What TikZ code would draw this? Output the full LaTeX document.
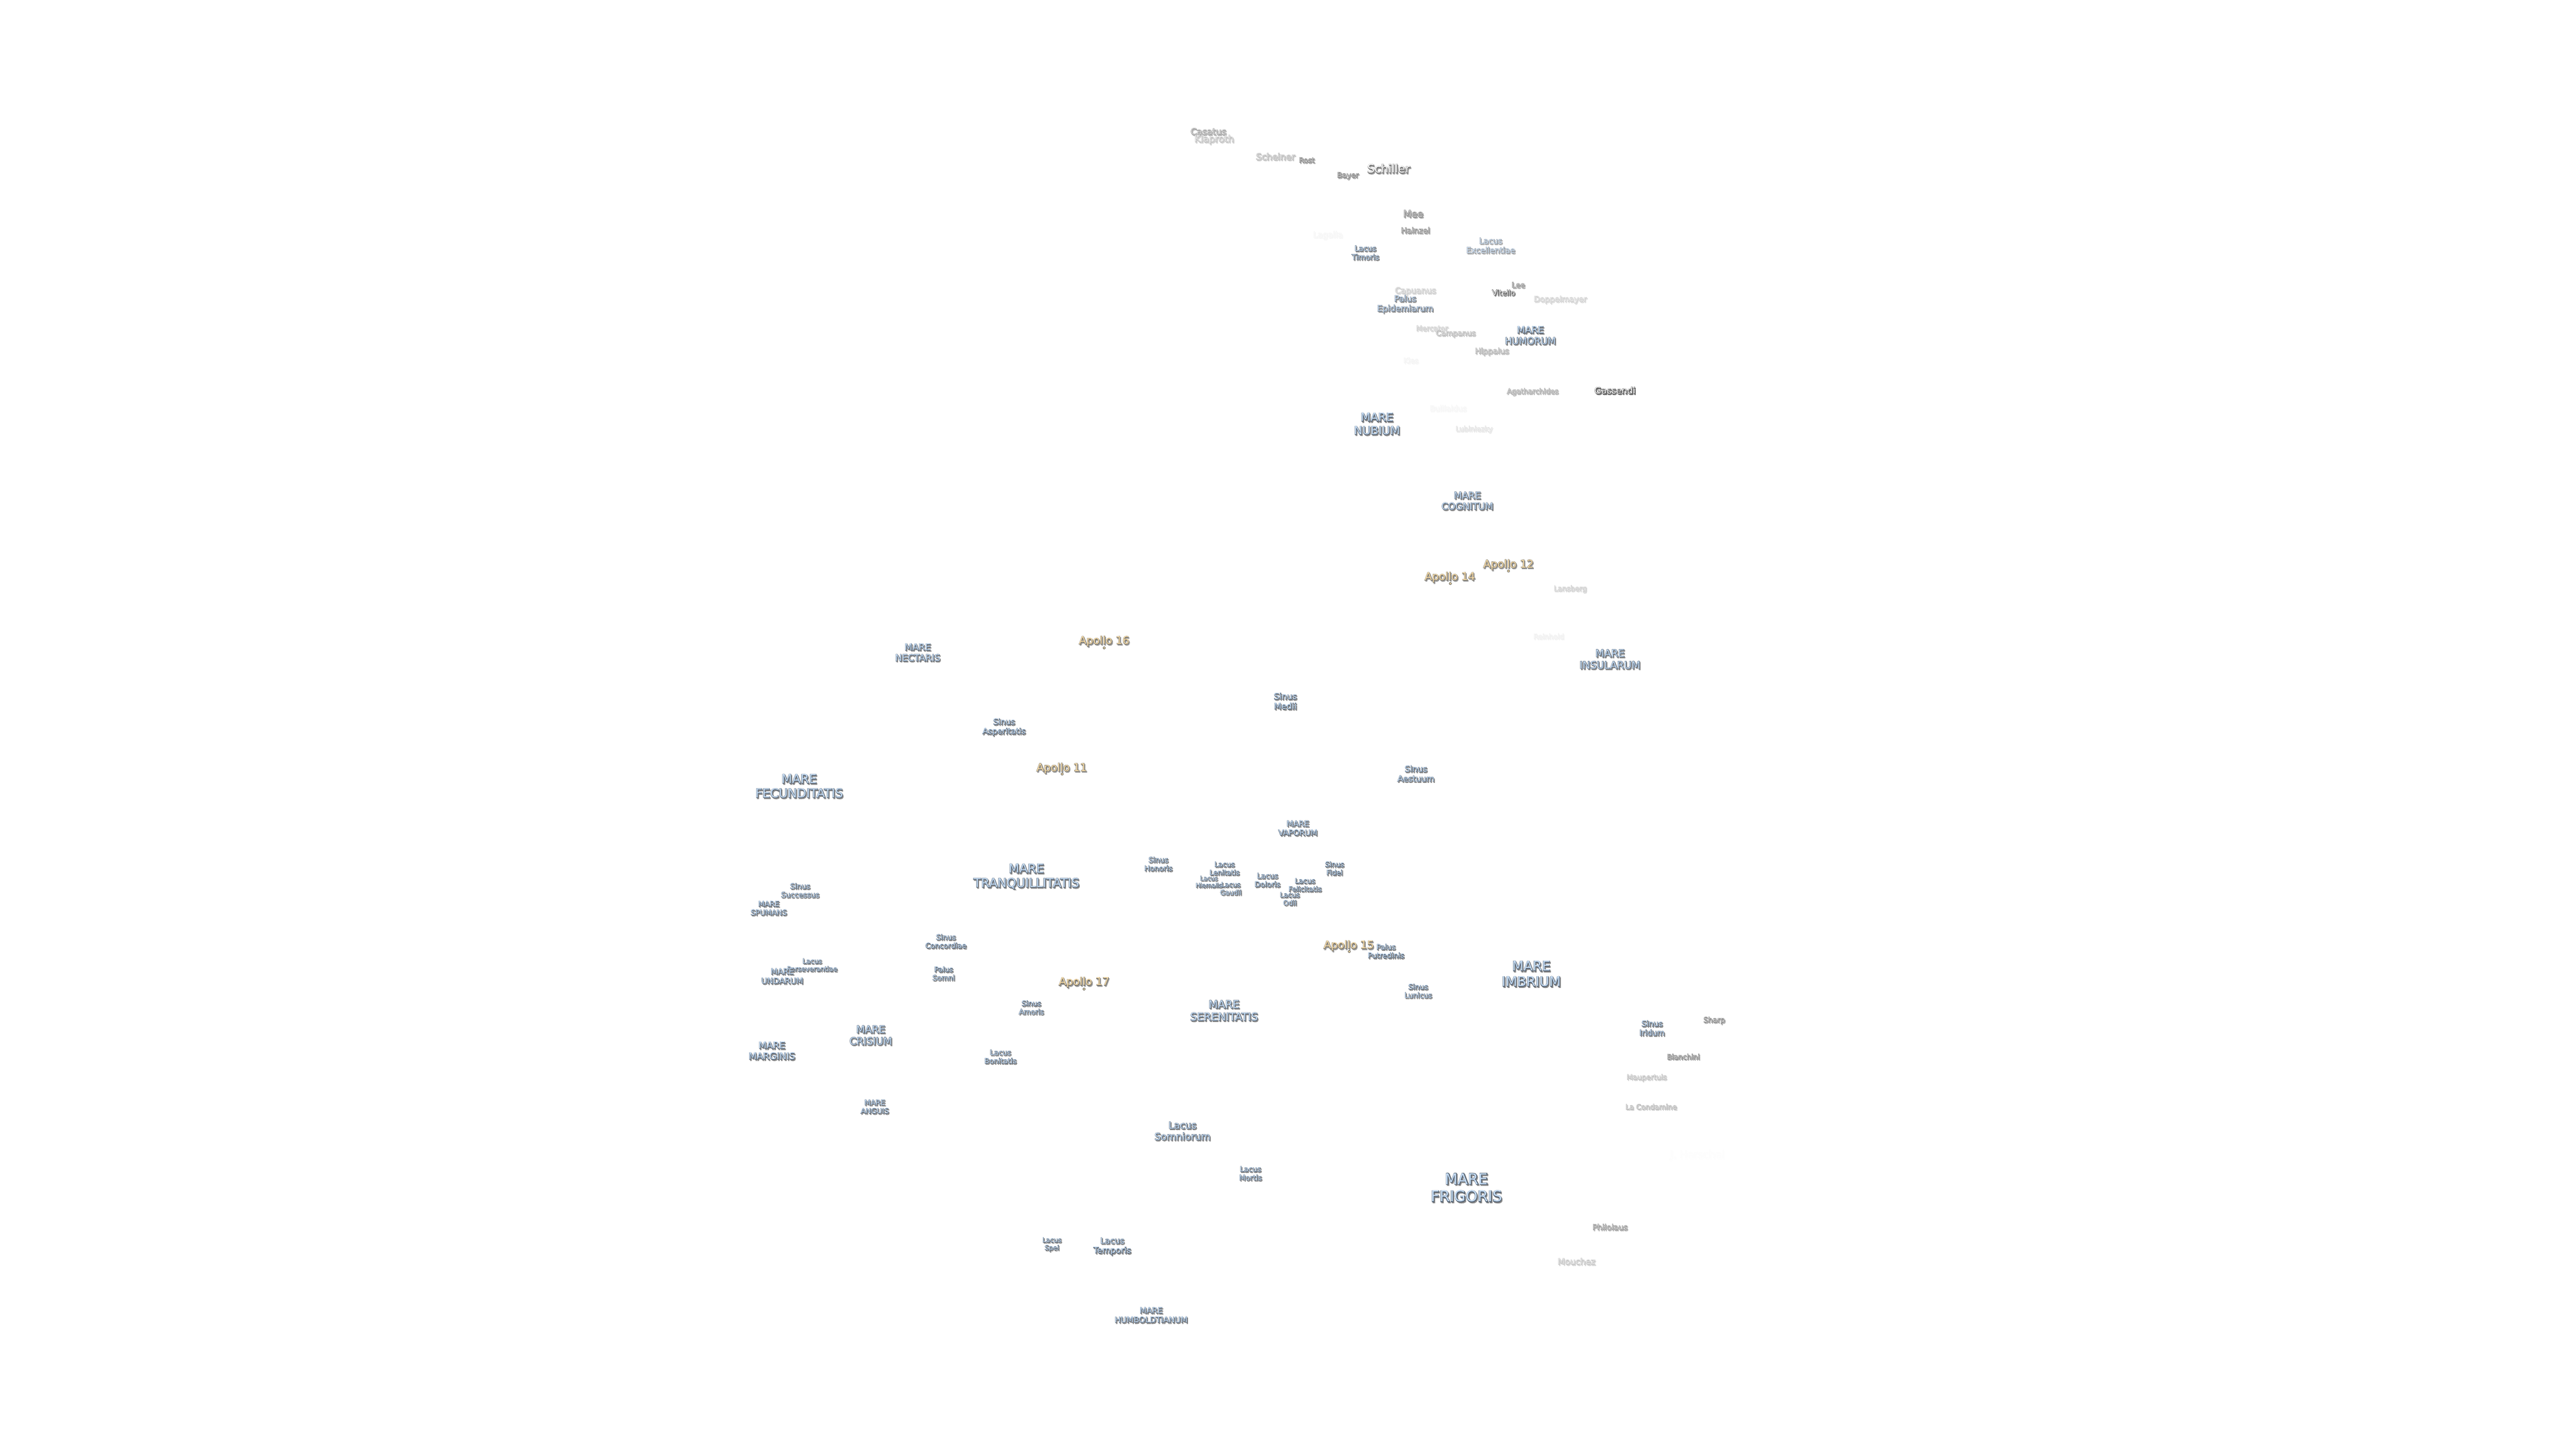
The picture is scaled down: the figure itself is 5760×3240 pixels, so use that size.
\documentclass[tikz,border=0pt]{standalone}
\usepackage{fontspec}
\setmainfont{DejaVu Sans}
\newfontfamily\halofont{DejaVu Sans}[FakeBold=6]
\definecolor{marefill}{HTML}{C6DDF5}
\definecolor{marehalo}{HTML}{4F5D6E}
\definecolor{mareshadow}{HTML}{8A8A8A}
\definecolor{apfill}{HTML}{F8DDAA}
\definecolor{aphalo}{HTML}{6E6A60}
\definecolor{apshadow}{HTML}{9A9A9A}
\definecolor{crfill}{HTML}{FFFFFF}
\definecolor{crhalo}{HTML}{303030}
\definecolor{crshadow}{HTML}{7A7A7A}
\definecolor{grfill}{HTML}{AAAAAA}
\definecolor{grhalo}{HTML}{303030}
\definecolor{grshadow}{HTML}{7A7A7A}
\tikzset{
  lab/.style={inner sep=0pt,align=center},
  apdot/.style={circle,inner sep=0pt,minimum size=5pt,fill=apfill,draw=aphalo,line width=1.2pt}
}
% name, x, y, size, kind (mare/ap/cr/gr), opacity percent, text
\newcommand\lab[7]{%
  \pgfmathsetlengthmacro\labskip{#4*1.164}%
  \node[lab,text=#5shadow!#6!white,font=\halofont\fontsize{#4}{\labskip}\selectfont] at (#2+2,#3+2.5) {#7};
  \node[lab,text=#5halo!#6!white,font=\halofont\fontsize{#4}{\labskip}\selectfont] at (#2,#3) {#7};
  \node[lab,text=#5fill!#6!white,font=\fontsize{#4}{\labskip}\selectfont] (#1) at (#2,#3) {#7};
}
\begin{document}
\begin{tikzpicture}[x=1pt,y=-1pt]
\useasboundingbox (0,0) rectangle (5760,3240);
\fill[white] (0,0) rectangle (5760,3240);
% craters, fading
\lab{casatus}{2702}{294}{20}{gr}{50}{Casatus}
\lab{klaproth}{2715}{312}{21}{gr}{33}{Klaproth}
\lab{scheiner}{2852}{350}{20}{gr}{38}{Scheiner}
\lab{rost}{2922}{358}{16}{gr}{65}{Rost}
\lab{schiller}{3105}{377}{26}{cr}{75}{Schiller}
\lab{bayer}{3014}{393}{16.5}{gr}{65}{Bayer}
\lab{mee}{3160}{478}{21.5}{gr}{62}{Mee}
\lab{hainzel}{3165}{515}{17.5}{gr}{60}{Hainzel}
\lab{lagalla}{2969}{526}{18.5}{gr}{5}{Lagalla}
\lab{capuanus}{3165}{651}{18.4}{gr}{28}{Capuanus}
\lab{lee}{3395}{637}{16.7}{gr}{60}{Lee}
\lab{vitello}{3362}{654}{16.4}{cr}{95}{Vitello}
\lab{doppelmayer}{3489}{670}{17.5}{gr}{25}{Doppelmayer}
\lab{mercator}{3202}{734}{16}{gr}{28}{Mercator}
\lab{campanus}{3255}{746}{16.7}{gr}{38}{Campanus}
\lab{hippalus}{3336}{786}{17.5}{gr}{42}{Hippalus}
\lab{kies}{3155}{806}{16}{gr}{6}{Kies}
\lab{agatharchides}{3427}{876}{16}{gr}{48}{Agatharchides}
\lab{gassendi}{3611}{873}{20}{cr}{100}{Gassendi}
\lab{bullialdus}{3238}{913}{17}{gr}{5}{Bullialdus}
\lab{lubiniezky}{3296}{960}{15.6}{gr}{16}{Lubiniezky}
\lab{lansberg}{3511}{1317}{16}{gr}{28}{Lansberg}
\lab{reinhold}{3463}{1423}{15.7}{gr}{8}{Reinhold}
\lab{sharp}{3833}{2282}{16.5}{gr}{62}{Sharp}
\lab{bianchini}{3764}{2363}{16}{gr}{65}{Bianchini}
\lab{maupertuis}{3682}{2410}{16}{gr}{33}{Maupertuis}
\lab{lacondamine}{3692}{2475}{16}{gr}{38}{La Condamine}
\lab{jherschel}{3795}{2583}{22.8}{gr}{1}{J. Herschel}
\lab{philolaus}{3600}{2744}{17.6}{gr}{55}{Philolaus}
\lab{mouchez}{3525}{2821}{19}{gr}{30}{Mouchez}
% maria and friends
\lab{timoris}{3053}{565}{16.7}{mare}{100}{Lacus\\Timoris}
\lab{excellentiae}{3333}{549}{18}{mare}{70}{Lacus\\Excellentiae}
\lab{epidemiarum}{3142}{680}{18.8}{mare}{90}{Palus\\Epidemiarum}
\lab{humorum}{3422}{750}{21}{mare}{100}{MARE\\HUMORUM}
\lab{nubium}{3079}{948}{25.4}{mare}{100}{MARE\\NUBIUM}
\lab{cognitum}{3281}{1120}{21}{mare}{100}{MARE\\COGNITUM}
\lab{insularum}{3600}{1474}{22.8}{mare}{100}{MARE\\INSULARUM}
\lab{nectaris}{2052}{1459}{20.5}{mare}{100}{MARE\\NECTARIS}
\lab{asperitatis}{2245}{1626}{18}{mare}{100}{Sinus\\Asperitatis}
\lab{fecunditatis}{1787}{1758}{27.5}{mare}{100}{MARE\\FECUNDITATIS}
\lab{tranquillitatis}{2295}{1960}{27.5}{mare}{100}{MARE\\TRANQUILLITATIS}
\lab{successus}{1789}{1991}{16.5}{mare}{100}{Sinus\\Successus}
\lab{spumans}{1719}{2031}{16.5}{mare}{100}{MARE\\SPUMANS}
\lab{medii}{2874}{1568}{19}{mare}{100}{Sinus\\Medii}
\lab{aestuum}{3166}{1730}{18.6}{mare}{100}{Sinus\\Aestuum}
\lab{vaporum}{2902}{1852}{17.5}{mare}{100}{MARE\\VAPORUM}
\lab{honoris}{2590}{1932}{16.4}{mare}{100}{Sinus\\Honoris}
\lab{lenitatis}{2738}{1942}{15.7}{mare}{100}{Lacus\\Lenitatis}
\lab{hiemalis}{2703}{1972}{13.6}{mare}{100}{Lacus\\Hiemalis}
\lab{gaudii}{2752}{1987}{15}{mare}{100}{Lacus\\Gaudii}
\lab{doloris}{2834}{1968}{16.4}{mare}{100}{Lacus\\Doloris}
\lab{felicitatis}{2918}{1979}{15.7}{mare}{100}{Lacus\\Felicitatis}
\lab{odii}{2884}{2010}{15.3}{mare}{100}{Lacus\\Odii}
\lab{fidei}{2984}{1942}{15.7}{mare}{100}{Sinus\\Fidei}
\lab{putredinis}{3099}{2127}{16.4}{mare}{100}{Palus\\Putredinis}
\lab{concordiae}{2115}{2105}{16.3}{mare}{100}{Sinus\\Concordiae}
\lab{perseverantiae}{1816}{2158}{15}{mare}{100}{Lacus\\Perseverantiae}
\lab{undarum}{1749}{2183}{18}{mare}{100}{MARE\\UNDARUM}
\lab{somni}{2110}{2177}{16}{mare}{100}{Palus\\Somni}
\lab{amoris}{2306}{2253}{16}{mare}{100}{Sinus\\Amoris}
\lab{crisium}{1947}{2315}{22.6}{mare}{100}{MARE\\CRISIUM}
\lab{marginis}{1726}{2350}{20.8}{mare}{100}{MARE\\MARGINIS}
\lab{bonitatis}{2237}{2363}{16.3}{mare}{100}{Lacus\\Bonitatis}
\lab{anguis}{1956}{2475}{16.3}{mare}{100}{MARE\\ANGUIS}
\lab{imbrium}{3424}{2178}{29.8}{mare}{100}{MARE\\IMBRIUM}
\lab{lunicus}{3171}{2216}{16.2}{mare}{100}{Sinus\\Lunicus}
\lab{serenitatis}{2737}{2260}{24}{mare}{100}{MARE\\SERENITATIS}
\lab{iridum}{3694}{2299}{17.5}{mare}{100}{Sinus\\Iridum}
\lab{somniorum}{2644}{2529}{21.7}{mare}{100}{Lacus\\Somniorum}
\lab{mortis}{2796}{2624}{16.5}{mare}{100}{Lacus\\Mortis}
\lab{frigoris}{3279}{2656}{33.5}{mare}{100}{MARE\\FRIGORIS}
\lab{spei}{2352}{2783}{14.8}{mare}{100}{Lacus\\Spei}
\lab{temporis}{2487}{2787}{18.7}{mare}{100}{Lacus\\Temporis}
\lab{humboldtianum}{2574}{2941}{18}{mare}{100}{MARE\\HUMBOLDTIANUM}
% Apollo sites
\lab{ap12}{3373}{1263}{24}{ap}{100}{Apollo 12}
\node[apdot] (ap12dot) at (3373,1277) {};
\lab{ap14}{3242}{1291}{24}{ap}{100}{Apollo 14}
\node[apdot] (ap14dot) at (3243,1305) {};
\lab{ap16}{2469}{1434}{24}{ap}{100}{Apollo 16}
\node[apdot] (ap16dot) at (2469,1449) {};
\lab{ap11}{2374}{1718}{24}{ap}{100}{Apollo 11}
\node[apdot] (ap11dot) at (2375,1731) {};
\lab{ap15}{3016}{2115}{24}{ap}{100}{Apollo 15}
\node[apdot] (ap15dot) at (3017,2128) {};
\lab{ap17}{2424}{2197}{24}{ap}{100}{Apollo 17}
\node[apdot] (ap17dot) at (2424,2212) {};
\end{tikzpicture}
\end{document}
